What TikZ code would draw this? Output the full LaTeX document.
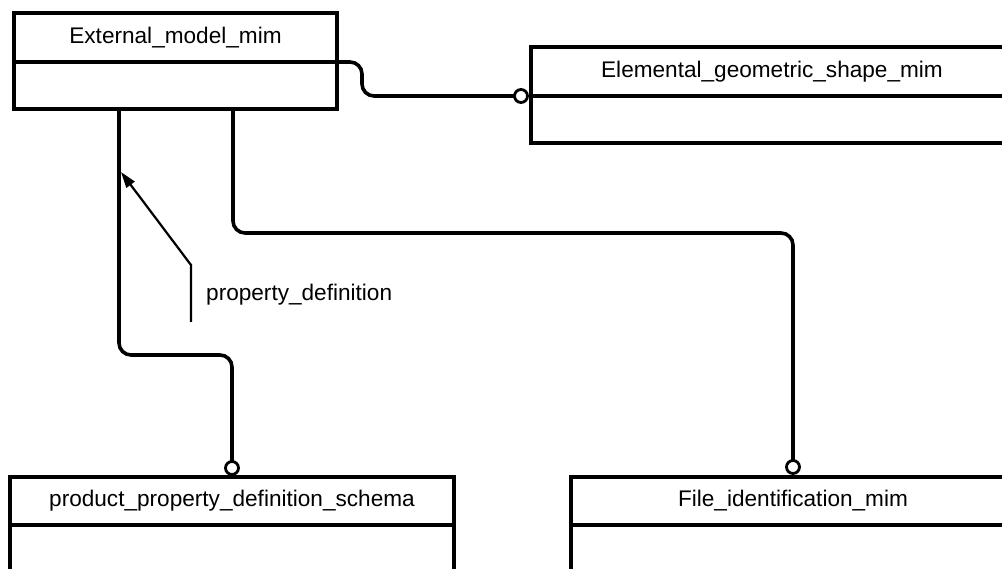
\documentclass[tikz,border=0pt]{standalone}
\usepackage{fontspec}
\setmainfont{Liberation Sans}
\usepackage{tikz}
\usetikzlibrary{positioning,arrows.meta}

\tikzset{
  entity/.style={draw, line width=4.2pt, outer sep=0pt, inner sep=0pt, minimum height=49pt, font=\fontsize{22.6}{27}\selectfont},
  entbody/.style={draw, line width=4.2pt, outer sep=0pt, inner sep=0pt},
  conn/.style={line width=3.6pt, rounded corners=12pt},
  ring/.style={circle, draw, line width=2.8pt, fill=white, minimum size=13pt, inner sep=0pt},
  pointer/.style={line width=2.2pt},
}

\begin{document}
\begin{tikzpicture}[x=1pt,y=1pt,yscale=-1,xscale=1]
\clip (0,0) rectangle (1002,569);

%Shape: Rectangle [External_model_mim]
\node[entity, minimum width=323pt, anchor=north west] (ext) at (14,13) {External\_model\_mim};
\node[entbody, minimum width=323pt, minimum height=47pt, below=0pt of ext] (ext body) {};
%Shape: Rectangle [Elemental_geometric_shape_mim]
\node[entity, minimum width=482pt, anchor=north west] (elem) at (531,47) {Elemental\_geometric\_shape\_mim};
\node[entbody, minimum width=482pt, minimum height=47pt, below=0pt of elem] (elem body) {};
%Shape: Rectangle [product_property_definition_schema]
\node[entity, minimum width=444pt, minimum height=48pt, anchor=north west] (pds) at (10,477) {product\_property\_definition\_schema};
\node[entbody, minimum width=444pt, minimum height=100pt, below=0pt of pds] (pds body) {};
%Shape: Rectangle [File_identification_mim]
\node[entity, minimum width=444pt, minimum height=48pt, anchor=north west] (fid) at (571,477) {File\_identification\_mim};
\node[entbody, minimum width=444pt, minimum height=100pt, below=0pt of fid] (fid body) {};

% ring points
\coordinate (c elem) at ([xshift=-10pt]elem body.north west);
\coordinate (c pds) at ([yshift=-9pt]pds.north);
\coordinate (c fid) at ([yshift=-10pt]fid.north);

%Straight Lines [ext -- elem]
\draw[conn] (ext body.north east) -- ++(25,0) |- (c elem);
%Straight Lines [ext -- pds]
\draw[conn] ([xshift=105pt]ext body.south west) -- ++(0,246) -| (c pds);
%Straight Lines [ext -- fid]
\draw[conn] ([xshift=219pt]ext body.south west) -- ++(0,124) -| (c fid);

%Shape: Circle
\node[ring] (ring elem) at (c elem) {};
\node[ring] (ring pds) at (c pds) {};
\node[ring] (ring fid) at (c fid) {};

% Text Node
\node[anchor=west, inner sep=0pt, font=\fontsize{22.6}{27}\selectfont] (pdef) at (206,295) {property\_definition};
\coordinate (pdef tip) at ([xshift=107pt,yshift=63pt]ext body.south west);
%Straight Lines [pointer]
\draw[pointer, -{Triangle[length=16pt,width=10pt]}] ([xshift=-15pt,yshift=27pt]pdef.west) -- ++(0,-57) -- (pdef tip);
\end{tikzpicture}
\end{document}
